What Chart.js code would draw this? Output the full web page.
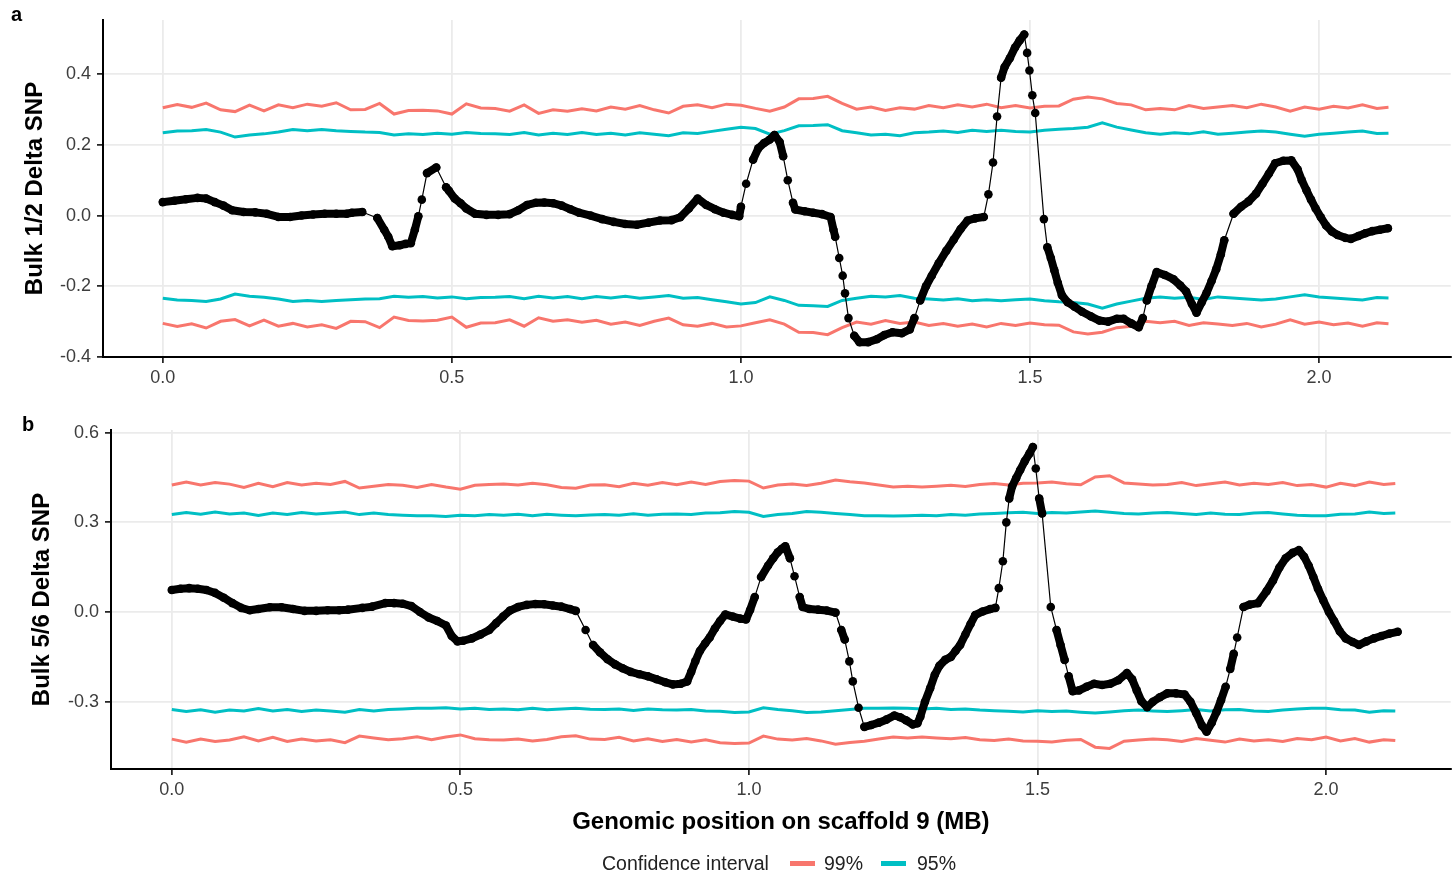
<!DOCTYPE html>
<html lang="en">
<head>
<meta charset="UTF-8">
<title>Delta SNP on scaffold 9</title>
<script src="https://cdn.jsdelivr.net/npm/chart.js"></script>
<style>
  body { margin: 0; background: #fff; font-family: 'Liberation Sans', Arial, Helvetica, sans-serif; }
  #page { position: relative; width: 1455px; height: 875px; overflow: hidden; background: #fff; }
  .panel { position: absolute; left: 0; width: 1455px; }
  .tag { position: absolute; font-weight: bold; font-size: 20px; color: #000; line-height: 1; }
  #legend { position: absolute; top: 854px; left: 602px; display: flex; align-items: center; font-size: 19.5px; color: #222; line-height: 1; }
  #legend .sw { display: inline-block; width: 25px; height: 5px; }
</style>
</head>
<body>
<div id="page">
  <div class="panel" style="top:0;height:400px"><canvas id="chartA"></canvas></div>
  <div class="panel" style="top:400px;height:475px"><canvas id="chartB"></canvas></div>
  <div class="tag" style="left:11px;top:4px">a</div>
  <div class="tag" style="left:22px;top:414px">b</div>
  <div id="legend">
    <span>Confidence interval</span>
    <span class="sw" style="background:#F8766D;margin-left:21px"></span>
    <span style="margin-left:9px">99%</span>
    <span class="sw" style="background:#00BFC4;margin-left:18px"></span>
    <span style="margin-left:11px">95%</span>
  </div>
</div>

<script>
// axis ticks
const xTicks = [0, 0.5, 1, 1.5, 2];
const xTickLabels = ['0.0', '0.5', '1.0', '1.5', '2.0'];
const yTicksA = [-0.4, -0.2, 0, 0.2, 0.4];
const yTickLabelsA = ['-0.4', '-0.2', '0.0', '0.2', '0.4'];
const yTicksB = [-0.3, 0, 0.3, 0.6];
const yTickLabelsB = ['-0.3', '0.0', '0.3', '0.6'];

// positions (MB) of the confidence interval thresholds, shared by both panels
const ciPos = [
  0, 0.025, 0.05, 0.075, 0.1, 0.125, 0.15, 0.175, 0.2, 0.225,
  0.25, 0.275, 0.3, 0.325, 0.35, 0.375, 0.4, 0.425, 0.45, 0.475,
  0.5, 0.525, 0.55, 0.575, 0.6, 0.625, 0.65, 0.675, 0.7, 0.725,
  0.75, 0.775, 0.8, 0.825, 0.85, 0.875, 0.9, 0.925, 0.95, 0.975,
  1, 1.025, 1.05, 1.075, 1.1, 1.125, 1.15, 1.175, 1.2, 1.225,
  1.25, 1.275, 1.3, 1.325, 1.35, 1.375, 1.4, 1.425, 1.45, 1.475,
  1.5, 1.525, 1.55, 1.575, 1.6, 1.625, 1.65, 1.675, 1.7, 1.725,
  1.75, 1.775, 1.8, 1.825, 1.85, 1.875, 1.9, 1.925, 1.95, 1.975,
  2, 2.025, 2.05, 2.075, 2.1, 2.12
];

// panel a: 99% / 95% thresholds (plotted as +/-)
const ci99A = [
  0.305, 0.314, 0.306, 0.318, 0.299, 0.294, 0.312, 0.296, 0.313, 0.305,
  0.315, 0.309, 0.319, 0.299, 0.300, 0.317, 0.287, 0.297, 0.298, 0.296,
  0.287, 0.316, 0.304, 0.303, 0.295, 0.313, 0.289, 0.299, 0.295, 0.302,
  0.296, 0.307, 0.301, 0.311, 0.299, 0.290, 0.309, 0.313, 0.305, 0.315,
  0.312, 0.303, 0.295, 0.307, 0.330, 0.331, 0.337, 0.317, 0.301, 0.307,
  0.297, 0.305, 0.301, 0.311, 0.305, 0.313, 0.307, 0.315, 0.305, 0.311,
  0.304, 0.309, 0.310, 0.329, 0.335, 0.330, 0.317, 0.313, 0.299, 0.303,
  0.299, 0.311, 0.303, 0.307, 0.311, 0.305, 0.315, 0.307, 0.295, 0.307,
  0.301, 0.309, 0.304, 0.313, 0.303, 0.306
];
const ci95A = [
  0.234, 0.239, 0.240, 0.243, 0.236, 0.222, 0.228, 0.231, 0.236, 0.243,
  0.240, 0.243, 0.240, 0.238, 0.236, 0.235, 0.228, 0.231, 0.229, 0.233,
  0.230, 0.235, 0.232, 0.231, 0.229, 0.235, 0.228, 0.233, 0.229, 0.235,
  0.229, 0.233, 0.228, 0.234, 0.230, 0.226, 0.234, 0.232, 0.238, 0.244,
  0.250, 0.246, 0.230, 0.240, 0.254, 0.255, 0.257, 0.240, 0.234, 0.228,
  0.230, 0.226, 0.234, 0.236, 0.239, 0.235, 0.241, 0.238, 0.241, 0.238,
  0.236, 0.241, 0.244, 0.246, 0.250, 0.262, 0.250, 0.242, 0.234, 0.230,
  0.234, 0.231, 0.237, 0.230, 0.233, 0.236, 0.239, 0.236, 0.230, 0.224,
  0.230, 0.233, 0.236, 0.239, 0.232, 0.233
];

// panel b thresholds
const ci99B = [
  0.425, 0.435, 0.425, 0.433, 0.428, 0.417, 0.431, 0.419, 0.433, 0.425,
  0.431, 0.427, 0.437, 0.415, 0.421, 0.427, 0.424, 0.417, 0.427, 0.418,
  0.411, 0.424, 0.427, 0.428, 0.425, 0.431, 0.426, 0.417, 0.414, 0.425,
  0.426, 0.419, 0.431, 0.424, 0.433, 0.426, 0.435, 0.427, 0.437, 0.440,
  0.438, 0.415, 0.425, 0.428, 0.423, 0.431, 0.442, 0.436, 0.432, 0.425,
  0.418, 0.421, 0.418, 0.421, 0.424, 0.420, 0.427, 0.430, 0.425, 0.431,
  0.432, 0.435, 0.429, 0.426, 0.452, 0.456, 0.432, 0.428, 0.425, 0.427,
  0.433, 0.423, 0.429, 0.435, 0.425, 0.431, 0.427, 0.433, 0.423, 0.427,
  0.418, 0.431, 0.423, 0.435, 0.427, 0.430
];
const ci95B = [
  0.326, 0.333, 0.327, 0.335, 0.328, 0.331, 0.323, 0.331, 0.326, 0.333,
  0.328, 0.331, 0.335, 0.326, 0.331, 0.326, 0.324, 0.322, 0.322, 0.320,
  0.324, 0.322, 0.326, 0.324, 0.327, 0.322, 0.327, 0.324, 0.322, 0.325,
  0.326, 0.324, 0.329, 0.324, 0.327, 0.328, 0.326, 0.331, 0.332, 0.336,
  0.334, 0.320, 0.326, 0.330, 0.336, 0.334, 0.330, 0.326, 0.322, 0.322,
  0.321, 0.322, 0.324, 0.322, 0.326, 0.324, 0.328, 0.330, 0.332, 0.334,
  0.330, 0.333, 0.331, 0.335, 0.338, 0.334, 0.330, 0.328, 0.331, 0.333,
  0.330, 0.326, 0.331, 0.327, 0.326, 0.331, 0.333, 0.328, 0.324, 0.322,
  0.322, 0.327, 0.328, 0.335, 0.330, 0.331
];

// panel a: smoothed delta SNP (Bulk 1/2)
const posA = [
  0.000, 0.020, 0.040, 0.060, 0.075, 0.090, 0.105, 0.120, 0.140, 0.160,
  0.180, 0.200, 0.220, 0.240, 0.260, 0.280, 0.300, 0.318, 0.327, 0.345,
  0.371, 0.383, 0.390, 0.397, 0.410, 0.420, 0.429, 0.436, 0.442, 0.448,
  0.457, 0.473, 0.490, 0.495, 0.505, 0.515, 0.525, 0.540, 0.560, 0.580,
  0.600, 0.615, 0.630, 0.645, 0.660, 0.675, 0.690, 0.705, 0.720, 0.740,
  0.760, 0.780, 0.800, 0.820, 0.840, 0.860, 0.880, 0.895, 0.910, 0.925,
  0.940, 0.955, 0.970, 0.985, 0.997, 1.000, 1.009, 1.021, 1.030, 1.040,
  1.050, 1.058, 1.067, 1.073, 1.081, 1.090, 1.094, 1.110, 1.125, 1.140,
  1.155, 1.160, 1.163, 1.170, 1.176, 1.180, 1.186, 1.196, 1.205, 1.220,
  1.235, 1.248, 1.262, 1.278, 1.292, 1.300, 1.310, 1.320, 1.330, 1.342,
  1.355, 1.368, 1.380, 1.392, 1.405, 1.420, 1.428, 1.436, 1.443, 1.450,
  1.456, 1.465, 1.474, 1.482, 1.490, 1.495, 1.499, 1.504, 1.509, 1.524,
  1.530, 1.536, 1.542, 1.548, 1.555, 1.565, 1.577, 1.590, 1.605, 1.620,
  1.635, 1.650, 1.662, 1.675, 1.688, 1.695, 1.702, 1.710, 1.719, 1.733,
  1.748, 1.760, 1.770, 1.780, 1.788, 1.797, 1.805, 1.814, 1.822, 1.830,
  1.836, 1.852, 1.865, 1.878, 1.891, 1.902, 1.913, 1.924, 1.938, 1.952,
  1.963, 1.970, 1.978, 1.986, 1.994, 2.003, 2.012, 2.022, 2.032, 2.045,
  2.055, 2.068, 2.080, 2.092, 2.105, 2.119
];
const deltaA = [
  0.038, 0.042, 0.046, 0.050, 0.048, 0.038, 0.028, 0.015, 0.010, 0.009,
  0.005, -0.004, -0.004, 0.000, 0.003, 0.005, 0.005, 0.005, 0.008, 0.010,
  -0.007, -0.040, -0.060, -0.087, -0.084, -0.080, -0.078, -0.040, -0.002, 0.045,
  0.120, 0.136, 0.080, 0.070, 0.048, 0.035, 0.020, 0.005, 0.002, 0.002,
  0.004, 0.015, 0.030, 0.036, 0.037, 0.035, 0.028, 0.018, 0.008, 0.000,
  -0.010, -0.018, -0.024, -0.026, -0.020, -0.014, -0.013, -0.005, 0.020, 0.048,
  0.030, 0.018, 0.008, 0.002, -0.002, 0.025, 0.090, 0.158, 0.190, 0.205,
  0.215, 0.228, 0.208, 0.168, 0.100, 0.036, 0.017, 0.012, 0.008, 0.004,
  -0.004, -0.040, -0.060, -0.120, -0.170, -0.220, -0.290, -0.340, -0.358, -0.358,
  -0.350, -0.338, -0.330, -0.333, -0.322, -0.290, -0.240, -0.200, -0.170, -0.135,
  -0.100, -0.068, -0.038, -0.014, -0.008, -0.004, 0.060, 0.150, 0.280, 0.390,
  0.420, 0.445, 0.475, 0.495, 0.512, 0.460, 0.410, 0.340, 0.290, -0.010,
  -0.090, -0.120, -0.155, -0.190, -0.225, -0.245, -0.258, -0.272, -0.285, -0.297,
  -0.300, -0.292, -0.292, -0.305, -0.316, -0.290, -0.240, -0.200, -0.160, -0.168,
  -0.180, -0.198, -0.215, -0.250, -0.275, -0.245, -0.220, -0.185, -0.152, -0.110,
  -0.070, 0.005, 0.025, 0.040, 0.062, 0.090, 0.118, 0.148, 0.155, 0.156,
  0.130, 0.100, 0.072, 0.045, 0.020, -0.005, -0.028, -0.045, -0.055, -0.063,
  -0.066, -0.058, -0.050, -0.044, -0.040, -0.036
];

// panel b: smoothed delta SNP (Bulk 5/6)
const posB = [
  0.000, 0.015, 0.030, 0.045, 0.060, 0.075, 0.090, 0.105, 0.120, 0.135,
  0.150, 0.170, 0.190, 0.210, 0.230, 0.250, 0.270, 0.290, 0.305, 0.330,
  0.347, 0.370, 0.385, 0.400, 0.415, 0.430, 0.445, 0.460, 0.475, 0.485,
  0.495, 0.505, 0.520, 0.535, 0.550, 0.562, 0.574, 0.586, 0.600, 0.615,
  0.630, 0.645, 0.660, 0.675, 0.690, 0.700, 0.717, 0.730, 0.742, 0.755,
  0.768, 0.781, 0.795, 0.810, 0.825, 0.840, 0.855, 0.868, 0.882, 0.893,
  0.900, 0.907, 0.915, 0.924, 0.932, 0.941, 0.950, 0.959, 0.972, 0.985,
  0.995, 1.002, 1.010, 1.021, 1.033, 1.042, 1.050, 1.057, 1.063, 1.071,
  1.079, 1.088, 1.093, 1.105, 1.120, 1.135, 1.150, 1.160, 1.166, 1.174,
  1.180, 1.190, 1.200, 1.212, 1.225, 1.238, 1.252, 1.262, 1.272, 1.284,
  1.292, 1.297, 1.305, 1.314, 1.322, 1.330, 1.340, 1.350, 1.358, 1.366,
  1.375, 1.384, 1.392, 1.405, 1.418, 1.427, 1.433, 1.440, 1.446, 1.451,
  1.456, 1.463, 1.470, 1.478, 1.486, 1.492, 1.497, 1.503, 1.508, 1.523,
  1.533, 1.540, 1.547, 1.554, 1.561, 1.572, 1.585, 1.598, 1.612, 1.626,
  1.640, 1.655, 1.664, 1.672, 1.680, 1.690, 1.700, 1.712, 1.725, 1.740,
  1.755, 1.765, 1.775, 1.785, 1.793, 1.802, 1.810, 1.818, 1.826, 1.834,
  1.840, 1.846, 1.857, 1.868, 1.882, 1.897, 1.908, 1.919, 1.930, 1.942,
  1.953, 1.962, 1.970, 1.978, 1.986, 1.995, 2.005, 2.014, 2.024, 2.034,
  2.046, 2.057, 2.070, 2.083, 2.096, 2.110, 2.124
];
const deltaB = [
  0.074, 0.078, 0.080, 0.078, 0.074, 0.064, 0.048, 0.030, 0.014, 0.006,
  0.010, 0.016, 0.016, 0.010, 0.004, 0.004, 0.006, 0.006, 0.008, 0.014,
  0.018, 0.030, 0.030, 0.028, 0.020, 0.000, -0.018, -0.030, -0.045, -0.080,
  -0.098, -0.096, -0.088, -0.075, -0.060, -0.037, -0.015, 0.005, 0.017, 0.024,
  0.027, 0.026, 0.022, 0.018, 0.010, 0.004, -0.060, -0.110, -0.135, -0.158,
  -0.175, -0.188, -0.200, -0.208, -0.215, -0.225, -0.235, -0.242, -0.240, -0.232,
  -0.200, -0.165, -0.130, -0.105, -0.085, -0.055, -0.030, -0.008, -0.015, -0.022,
  -0.025, 0.007, 0.050, 0.117, 0.155, 0.180, 0.200, 0.212, 0.220, 0.180,
  0.120, 0.050, 0.017, 0.010, 0.008, 0.005, -0.002, -0.060, -0.092, -0.165,
  -0.232, -0.320, -0.384, -0.378, -0.370, -0.360, -0.346, -0.352, -0.362, -0.376,
  -0.372, -0.350, -0.300, -0.255, -0.210, -0.180, -0.160, -0.150, -0.130, -0.110,
  -0.075, -0.040, -0.010, 0.002, 0.010, 0.014, 0.080, 0.170, 0.300, 0.380,
  0.420, 0.448, 0.475, 0.505, 0.530, 0.552, 0.480, 0.380, 0.330, 0.017,
  -0.060, -0.110, -0.160, -0.215, -0.265, -0.262, -0.250, -0.240, -0.244, -0.240,
  -0.228, -0.204, -0.225, -0.262, -0.298, -0.318, -0.300, -0.285, -0.272, -0.272,
  -0.276, -0.300, -0.338, -0.380, -0.400, -0.370, -0.335, -0.295, -0.250, -0.190,
  -0.140, -0.085, 0.017, 0.025, 0.030, 0.070, 0.105, 0.148, 0.180, 0.198,
  0.207, 0.185, 0.155, 0.117, 0.078, 0.040, 0.000, -0.030, -0.065, -0.088,
  -0.100, -0.110, -0.098, -0.088, -0.080, -0.072, -0.066
];

const FONT = "'Liberation Sans', Arial, Helvetica, sans-serif";
const RED = '#F8766D';
const TEAL = '#00BFC4';
const GRID = '#ebebeb';

// where SNPs are packed tightly the dots merge into a thick band
function denseWidth(c) {
  const d = Math.hypot(c.p1.x - c.p0.x, c.p1.y - c.p0.y);
  return d < 16 ? 8 : 1.2;
}

function pickLabel(ticks, labels) {
  return v => {
    const i = ticks.findIndex(t => Math.abs(t - v) < 1e-9);
    return i < 0 ? '' : labels[i];
  };
}

function buildPanel(id, o) {
  const black = o.pos.map((x, i) => ({ x: x, y: o.delta[i] }));
  const ci = (arr, sign) => ciPos.map((x, i) => ({ x: x, y: sign * arr[i] }));
  const ciSet = (arr, sign, color) => ({
    data: ci(arr, sign), borderColor: color, backgroundColor: color,
    borderWidth: 3, pointRadius: 0, order: 1
  });

  return new Chart(document.getElementById(id), {
    type: 'line',
    data: {
      datasets: [
        {
          data: black, borderColor: '#000', backgroundColor: '#000',
          borderWidth: 1.2, borderCapStyle: 'round', borderJoinStyle: 'round',
          pointRadius: 4.3, pointHoverRadius: 4.3, pointBorderWidth: 0,
          segment: { borderWidth: denseWidth }, order: 0
        },
        ciSet(o.ci99, 1, RED),
        ciSet(o.ci99, -1, RED),
        ciSet(o.ci95, 1, TEAL),
        ciSet(o.ci95, -1, TEAL)
      ]
    },
    options: {
      responsive: true,
      maintainAspectRatio: false,
      animation: false,
      events: [],
      layout: { padding: { top: o.padTop, left: 0, right: 0, bottom: 0 } },
      plugins: { legend: { display: false }, tooltip: { enabled: false } },
      scales: {
        x: {
          type: 'linear', min: o.xMin, max: o.xMax,
          afterBuildTicks: s => { s.ticks = xTicks.map(v => ({ value: v })); },
          afterFit: s => { s.height = o.xHeight; },
          ticks: {
            callback: pickLabel(xTicks, xTickLabels), autoSkip: false, maxRotation: 0,
            font: { family: FONT, size: 18 }, color: '#3d3d3d', padding: 4
          },
          grid: { color: GRID, lineWidth: 1.8, tickColor: '#000', tickLength: 6, tickWidth: 1.5 },
          border: { color: '#000', width: 2 },
          title: o.xTitle ? {
            display: true, text: o.xTitle, color: '#000',
            font: { family: FONT, size: 24, weight: 'bold', lineHeight: 1.2 },
            padding: { top: 0, bottom: o.xTitlePad }
          } : { display: false }
        },
        y: {
          type: 'linear', min: o.yMin, max: o.yMax,
          afterBuildTicks: s => { s.ticks = o.yTicks.map(v => ({ value: v })); },
          afterFit: s => { s.width = o.yWidth; },
          ticks: {
            callback: pickLabel(o.yTicks, o.yLabels), autoSkip: false,
            font: { family: FONT, size: 18 }, color: '#3d3d3d', padding: 6
          },
          grid: { color: GRID, lineWidth: 1.8, tickColor: '#000', tickLength: 6, tickWidth: 1.5 },
          border: { color: '#000', width: 2 },
          title: {
            display: true, text: o.yTitle, color: '#000',
            font: { family: FONT, size: 24, weight: 'bold', lineHeight: 1.2 },
            padding: { top: o.yTitlePad, bottom: 0 }
          }
        }
      }
    }
  });
}

buildPanel('chartA', {
  pos: posA, delta: deltaA, ci99: ci99A, ci95: ci95A,
  xMin: -0.1034, xMax: 2.2276, yMin: -0.4, yMax: 0.553,
  yTicks: yTicksA, yLabels: yTickLabelsA, yTitle: 'Bulk 1/2 Delta SNP',
  padTop: 20, xHeight: 43, yWidth: 103, yTitlePad: 20.6
});

buildPanel('chartB', {
  pos: posB, delta: deltaB, ci99: ci99B, ci95: ci95B,
  xMin: -0.1054, xMax: 2.216, yMin: -0.525, yMax: 0.609,
  yTicks: yTicksB, yLabels: yTickLabelsB, yTitle: 'Bulk 5/6 Delta SNP',
  xTitle: 'Genomic position on scaffold 9 (MB)', xTitlePad: 38.6,
  padTop: 30, xHeight: 106, yWidth: 111, yTitlePad: 27.6
});
</script>
</body>
</html>
